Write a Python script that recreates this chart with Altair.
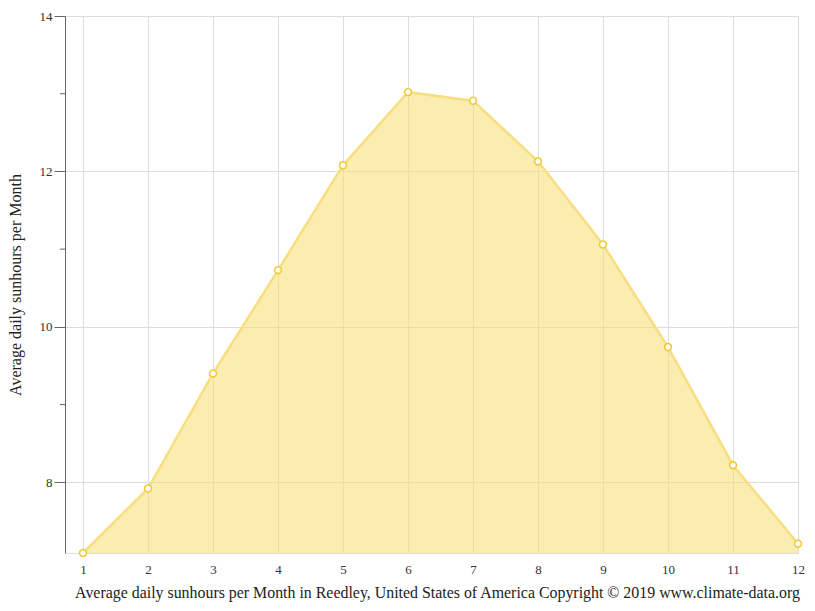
import altair as alt
import pandas as pd

months = [1, 2, 3, 4, 5, 6, 7, 8, 9, 10, 11, 12]
sunhours = [7.09, 7.92, 9.40, 10.73, 12.08, 13.02, 12.91, 12.13, 11.06, 9.74, 8.22, 7.21]
y_major = [8, 10, 12, 14]
y_minor = [9, 11, 13]

df = pd.DataFrame({"month": months, "sun": sunhours, "base": [min(sunhours)] * len(months)})

FONT = "Times New Roman, Liberation Serif, DejaVu Serif, serif"
xscale = alt.Scale(domain=[0.723, 12], nice=False, zero=False)
yscale = alt.Scale(domain=[min(sunhours), 14], nice=False, zero=False)

xaxis = alt.Axis(values=months, format="d", title="Average daily sunhours per Month in Reedley, United States of America Copyright © 2019 www.climate-data.org",
                 domain=False, ticks=False, grid=True, gridColor="#dddddd", labelFont=FONT, labelFontSize=13,
                 labelColor="#333333", labelPadding=10, labelFlush=False, labelOverlap=False,
                 titleFont=FONT, titleFontSize=15.9, titleFontWeight="normal", titleX=372, titleAlign="center",
                 titleColor="#222222", titlePadding=8, labelAngle=0)
yaxis = alt.Axis(values=y_major, format="d", title="Average daily sunhours per Month", grid=True, gridColor="#dddddd",
                 domainColor="#666666", tickColor="#666666", tickSize=11, labelFont=FONT, labelFontSize=13,
                 labelColor="#333333", labelPadding=2, labelFlush=False, labelOverlap=False,
                 titleFont=FONT, titleFontSize=16, titleFontWeight="normal",
                 titleColor="#222222", titlePadding=16)

base = alt.Chart(df)
area = base.mark_area(color="#f7dd6e", opacity=0.55, line={"color": "#f7de80", "strokeWidth": 2.5}).encode(
    x=alt.X("month:Q", scale=xscale, axis=xaxis),
    y=alt.Y("sun:Q", scale=yscale, axis=yaxis),
    y2="base:Q",
)
pts = base.mark_point(filled=True, fill="white", stroke="#f2c830", strokeWidth=1.5, size=48, opacity=1).encode(
    x=alt.X("month:Q", scale=xscale),
    y=alt.Y("sun:Q", scale=yscale),
)
minor = alt.Chart(pd.DataFrame({"v": y_minor})).mark_rule(color="#666666", strokeWidth=1).encode(
    y=alt.Y("v:Q", scale=yscale),
    x=alt.value(-5),
    x2=alt.value(0),
)

chart = alt.layer(area, pts, minor).properties(
    width=733, height=537, autosize=alt.AutoSizeParams(type="none"),
    padding={"left": 65, "top": 16, "right": 17, "bottom": 58},
).configure_view(stroke=None).configure(background="white")

chart.save("out.html", embed_options={"renderer": "svg", "actions": False})
